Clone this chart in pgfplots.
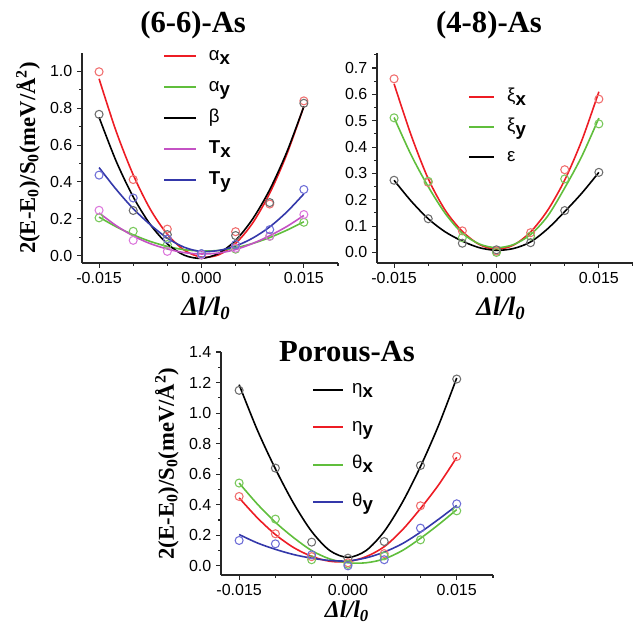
\documentclass[border=0pt]{standalone}
\usepackage{fontspec}
\setmainfont{Liberation Serif}
\newfontfamily\arial{Liberation Sans}
\usepackage{pgfplots}
\pgfplotsset{compat=1.18}

\definecolor{cR}{RGB}{237,28,36}
\definecolor{cG}{RGB}{96,190,60}
\definecolor{cK}{RGB}{0,0,0}
\definecolor{cM}{RGB}{196,82,196}
\definecolor{cB}{RGB}{52,56,170}
\definecolor{mR}{RGB}{240,110,110}
\definecolor{mG}{RGB}{120,200,90}
\definecolor{mK}{RGB}{110,110,110}
\definecolor{mM}{RGB}{220,120,220}
\definecolor{mB}{RGB}{110,110,215}

\newcommand\tickfont{\arial\fontsize{12}{12}\selectfont}
\newcommand\legfont{\arial\fontsize{14}{14}\selectfont}
\newcommand\ylabfont{\bfseries\fontsize{17}{17}\selectfont}
\newcommand\xlabfont{\bfseries\itshape\fontsize{20}{20}\selectfont}
\newcommand\titfont{\bfseries\fontsize{23}{23}\selectfont}
\newcommand\sub[1]{\raisebox{-3pt}{\bfseries #1}}
\def\leglen{24pt}

\pgfplotsset{
  legend image code/.code={\draw[#1, line width=1.3pt] (0pt,0pt) -- (\leglen,0pt);},
  base/.style={
    scale only axis,
    axis x line=bottom, axis y line=left,
    axis line style={-, line width=0.8pt, black!85},
    tick style={line width=0.8pt, black!85},
    tick align=outside, major tick length=3.75pt, minor tick length=2.25pt,
    xmin=-0.0175, xmax=0.02, scaled x ticks=false, scaled y ticks=false,
    xtick={-0.015,0,0.015}, xticklabels={-0.015,0.000,0.015},
    minor xtick={-0.01,-0.005,0.005,0.01,0.02},
    tick label style={font=\tickfont},
    xticklabel style={font=\tickfont},
    yticklabel style={font=\tickfont},
    /pgf/number format/assume math mode=true,
    legend cell align=left,
    legend style={draw=none, fill=none, font=\legfont, inner sep=0pt,
      column sep=9pt, anchor=north west,
      nodes={inner sep=0pt, text height=10pt, text depth=4pt}},
    every axis y label/.style={rotate=90, anchor=center, font=\ylabfont},
    every axis x label/.style={anchor=center, font=\xlabfont},
    every axis title shift=0pt,
    title style={anchor=center, font=\titfont},
  },
  crv/.style={line width=1.2pt, smooth, no marks},
  pts/.style={only marks, mark=o, mark size=3pt, mark options={line width=0.8pt}, forget plot},
}

\begin{document}
\begin{tikzpicture}
\path[use as bounding box] (0,0) rectangle (474.75pt,468pt);

% ---------------- (6-6)-As ----------------
\def\leglen{24pt}
\begin{axis}[base, at={(61.5pt,270.75pt)}, anchor=south west,
  width=192pt, height=157.5pt,
  ymin=-0.04, ymax=1.1,
  ytick={0,0.2,0.4,0.6,0.8,1.0}, yticklabels={0.0,0.2,0.4,0.6,0.8,1.0},
  minor ytick={0.1,0.3,0.5,0.7,0.9},
  title={(6-6)-As}, title style={at={(axis description cs:0.434,1.133)}},
  ylabel={2(E-E\textsubscript{0})/S\textsubscript{0}(meV/Å\textsuperscript{2})},
  ylabel style={at={(axis description cs:-0.211,0.5)}},
  xlabel={Δl/l\textsubscript{0}},
  xlabel style={at={(axis description cs:0.484,-0.214)}},
  legend style={at={(axis description cs:0.316,1.03)}, row sep=9.25pt},
]
\addplot[pts, mR] coordinates {(-0.015,0.998)(-0.01,0.413)(-0.005,0.144)(0,0.005)(0.005,0.13)(0.01,0.28)(0.015,0.84)};
\addplot[pts, mG] coordinates {(-0.015,0.205)(-0.01,0.132)(-0.005,0.06)(0,0.01)(0.005,0.035)(0.01,0.105)(0.015,0.181)};
\addplot[pts, mK] coordinates {(-0.015,0.767)(-0.01,0.245)(-0.005,0.114)(0,0.005)(0.005,0.109)(0.01,0.288)(0.015,0.827)};
\addplot[pts, mM] coordinates {(-0.015,0.246)(-0.01,0.083)(-0.005,0.023)(0,0.005)(0.005,0.04)(0.01,0.105)(0.015,0.223)};
\addplot[pts, mB] coordinates {(-0.015,0.437)(-0.01,0.313)(-0.005,0.09)(0,0.011)(0.005,0.06)(0.01,0.141)(0.015,0.359)};
\addplot[crv, cR] coordinates {(-0.015,0.960)(-0.0125,0.675)(-0.01,0.439)(-0.0075,0.252)(-0.005,0.116)(-0.0025,0.029)(0,-0.008)(0.0025,0.004)(0.005,0.066)(0.0075,0.177)(0.01,0.339)(0.0125,0.550)(0.015,0.810)};
\addlegendentry{α\sub{x}}
\addplot[crv, cG] coordinates {(-0.015,0.209)(-0.0125,0.157)(-0.01,0.113)(-0.0075,0.077)(-0.005,0.050)(-0.0025,0.032)(0,0.025)(0.0025,0.028)(0.005,0.042)(0.0075,0.066)(0.01,0.098)(0.0125,0.138)(0.015,0.184)};
\addlegendentry{α\sub{y}}
\addplot[crv, cK] coordinates {(-0.015,0.751)(-0.0125,0.513)(-0.01,0.319)(-0.0075,0.169)(-0.005,0.064)(-0.0025,0.002)(0,-0.015)(0.0025,0.012)(0.005,0.083)(0.0075,0.199)(0.01,0.358)(0.0125,0.562)(0.015,0.810)};
\addlegendentry{β}
\addplot[crv, cM] coordinates {(-0.015,0.232)(-0.0125,0.163)(-0.01,0.107)(-0.0075,0.065)(-0.005,0.036)(-0.0025,0.016)(0,0.009)(0.0025,0.014)(0.005,0.033)(0.0075,0.066)(0.01,0.108)(0.0125,0.158)(0.015,0.218)};
\addlegendentry{\textbf{T}\sub{x}}
\addplot[crv, cB] coordinates {(-0.015,0.478)(-0.0125,0.36)(-0.01,0.255)(-0.0075,0.168)(-0.005,0.095)(-0.0025,0.045)(0,0.022)(0.0025,0.028)(0.005,0.052)(0.0075,0.095)(0.01,0.156)(0.0125,0.237)(0.015,0.335)};
\addlegendentry{\textbf{T}\sub{y}}
\end{axis}

% ---------------- (4-8)-As ----------------
\def\leglen{19pt}
\begin{axis}[base, at={(282.75pt,270.75pt)}, anchor=south west,
  width=192pt, height=157.5pt,
  ymin=-0.04, ymax=0.757,
  ytick={0,0.1,0.2,0.3,0.4,0.5,0.6,0.7}, yticklabels={0.0,0.1,0.2,0.3,0.4,0.5,0.6,0.7},
  minor ytick={0.05,0.15,0.25,0.35,0.45,0.55,0.65,0.75},
  title={(4-8)-As}, title style={at={(axis description cs:0.4375,1.133)}},
  xlabel={Δl/l\textsubscript{0}},
  xlabel style={at={(axis description cs:0.484,-0.214)}},
  legend style={at={(axis description cs:0.355,0.835)}, row sep=8.5pt},
]
\addplot[pts, mR] coordinates {(-0.015,0.659)(-0.01,0.266)(-0.005,0.082)(0,0.005)(0.005,0.075)(0.01,0.314)(0.015,0.582)};
\addplot[pts, mG] coordinates {(-0.015,0.511)(-0.01,0.27)(-0.005,0.056)(0,0.0)(0.005,0.062)(0.01,0.279)(0.015,0.488)};
\addplot[pts, mK] coordinates {(-0.015,0.274)(-0.01,0.128)(-0.005,0.035)(0,0.01)(0.005,0.037)(0.01,0.159)(0.015,0.304)};
\addplot[crv, cR] coordinates {(-0.015,0.64)(-0.0125,0.445)(-0.01,0.28)(-0.0075,0.16)(-0.005,0.08)(-0.0025,0.03)(0,0.012)(0.0025,0.028)(0.005,0.078)(0.0075,0.16)(0.01,0.275)(0.0125,0.425)(0.015,0.61)};
\addlegendentry{ξ\sub{x}}
\addplot[crv, cG] coordinates {(-0.015,0.512)(-0.0125,0.37)(-0.01,0.25)(-0.0075,0.148)(-0.005,0.073)(-0.0025,0.032)(0,0.018)(0.0025,0.03)(0.005,0.068)(0.0075,0.138)(0.01,0.245)(0.0125,0.365)(0.015,0.51)};
\addlegendentry{ξ\sub{y}}
\addplot[crv, cK] coordinates {(-0.015,0.274)(-0.0125,0.195)(-0.01,0.128)(-0.0075,0.078)(-0.005,0.043)(-0.0025,0.018)(0,0.008)(0.0025,0.015)(0.005,0.04)(0.0075,0.09)(0.01,0.155)(0.0125,0.225)(0.015,0.304)};
\addlegendentry{ε}
\end{axis}

% ---------------- Porous-As ----------------
\def\leglen{22.5pt}
\begin{axis}[base, at={(165.75pt,36.75pt)}, anchor=south west,
  width=204pt, height=167.25pt,
  ymin=-0.06, ymax=1.4,
  ytick={0,0.2,0.4,0.6,0.8,1.0,1.2,1.4}, yticklabels={0.0,0.2,0.4,0.6,0.8,1.0,1.2,1.4},
  minor ytick={0.1,0.3,0.5,0.7,0.9,1.1,1.3},
  title={Porous-As}, title style={at={(axis description cs:0.463,1.0)}},
  ylabel={2(E-E\textsubscript{0})/S\textsubscript{0}(meV/Å\textsuperscript{2})},
  ylabel style={at={(axis description cs:-0.199,0.5)}},
  xlabel={Δl/l\textsubscript{0}},
  xlabel style={at={(axis description cs:0.463,-0.163)}, inner sep=0pt,
    font=\bfseries\itshape\fontsize{18}{18}\selectfont},
  legend style={at={(axis description cs:0.335,0.8735)}, row sep=14.1pt, column sep=6pt},
]
\addplot[pts, mK] coordinates {(-0.015,1.149)(-0.01,0.64)(-0.005,0.155)(0,0.05)(0.005,0.159)(0.01,0.657)(0.015,1.223)};
\addplot[pts, mR] coordinates {(-0.015,0.454)(-0.01,0.21)(-0.005,0.06)(0,0.02)(0.005,0.08)(0.01,0.393)(0.015,0.716)};
\addplot[pts, mG] coordinates {(-0.015,0.542)(-0.01,0.306)(-0.005,0.04)(0,0.01)(0.005,0.065)(0.01,0.17)(0.015,0.36)};
\addplot[pts, mB] coordinates {(-0.015,0.166)(-0.01,0.144)(-0.005,0.072)(0,0.0)(0.005,0.04)(0.01,0.247)(0.015,0.406)};
\addplot[crv, cK] coordinates {(-0.015,1.186)(-0.0125,0.89)(-0.01,0.635)(-0.0075,0.41)(-0.005,0.225)(-0.0025,0.10)(0,0.055)(0.0025,0.10)(0.005,0.225)(0.0075,0.415)(0.01,0.65)(0.0125,0.92)(0.015,1.23)};
\addlegendentry{η\sub{x}}
\addplot[crv, cR] coordinates {(-0.015,0.445)(-0.0125,0.315)(-0.01,0.205)(-0.0075,0.12)(-0.005,0.062)(-0.0025,0.03)(0,0.028)(0.0025,0.06)(0.005,0.125)(0.0075,0.235)(0.01,0.375)(0.0125,0.53)(0.015,0.71)};
\addlegendentry{η\sub{y}}
\addplot[crv, cG] coordinates {(-0.015,0.542)(-0.0125,0.405)(-0.01,0.285)(-0.0075,0.185)(-0.005,0.10)(-0.0025,0.045)(0,0.02)(0.0025,0.02)(0.005,0.045)(0.0075,0.10)(0.01,0.18)(0.0125,0.27)(0.015,0.368)};
\addlegendentry{θ\sub{x}}
\addplot[crv, cB] coordinates {(-0.015,0.205)(-0.0125,0.15)(-0.01,0.108)(-0.0075,0.074)(-0.005,0.05)(-0.0025,0.035)(0,0.032)(0.0025,0.052)(0.005,0.09)(0.0075,0.145)(0.01,0.22)(0.0125,0.305)(0.015,0.395)};
\addlegendentry{θ\sub{y}}
\end{axis}
\end{tikzpicture}
\end{document}
